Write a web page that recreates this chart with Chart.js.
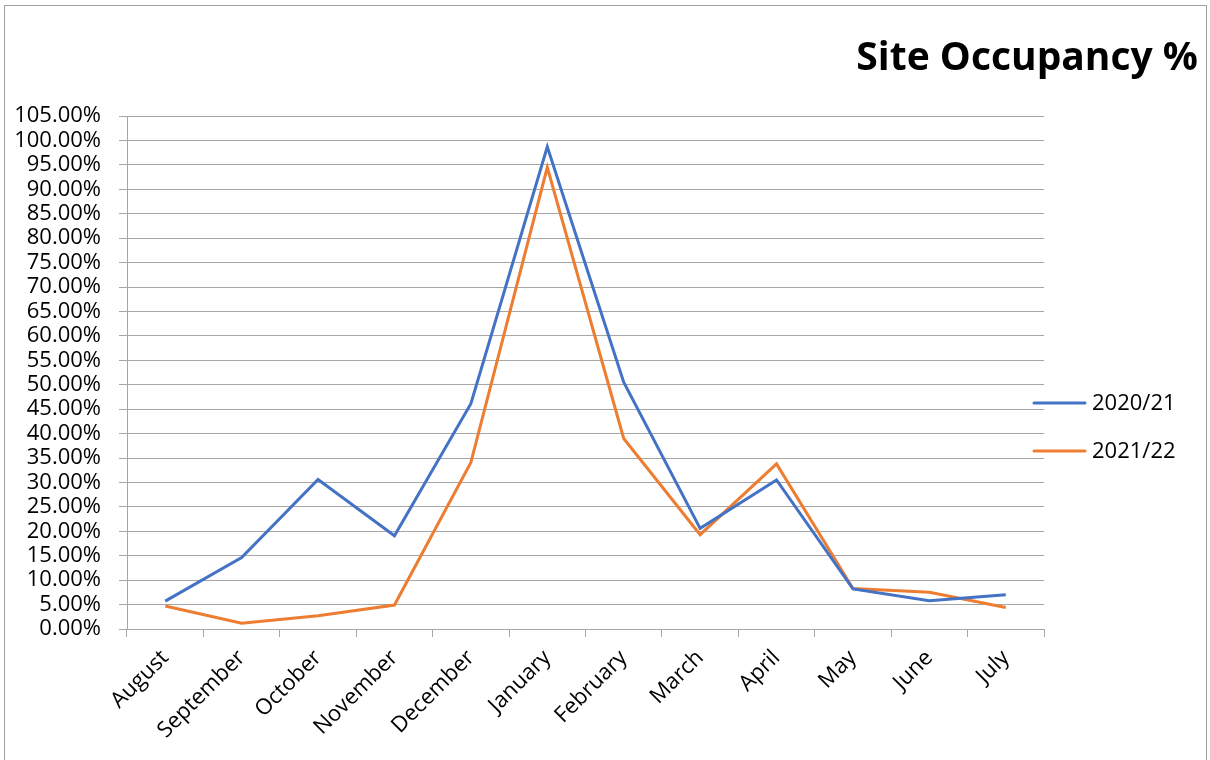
<!DOCTYPE html>
<html>
<head>
<meta charset="utf-8">
<title>Site Occupancy %</title>
<script src="https://cdn.jsdelivr.net/npm/chart.js@4.4.0/dist/chart.umd.min.js"></script>
<style>
  html, body { margin: 0; padding: 0; background: #ffffff; }
  #occupancyChart { display: block; }
</style>
</head>
<body>
<canvas id="occupancyChart" width="1210" height="760"></canvas>
<script>
// Chart data (values in %)
const months = ['August', 'September', 'October', 'November', 'December', 'January',
  'February', 'March', 'April', 'May', 'June', 'July'];
const season2021 = [5.7, 14.6, 30.6, 19.1, 46.1, 98.7, 50.5, 20.6, 30.5, 8.2, 5.8, 7.0];
const season2122 = [4.7, 1.2, 2.7, 4.9, 34.1, 94.5, 39.0, 19.3, 33.8, 8.3, 7.5, 4.4];
const seriesNames = ['2020/21', '2021/22'];

const chartTitle = 'Site Occupancy %';
const FONT = '"Open Sans", "DejaVu Sans", sans-serif';
const GRID = '#a6a6a6';

// Draws the outer frame, the title top-right and the legend to the right of the plot
const decorations = {
  id: 'decorations',
  afterDraw(chart) {
    const ctx = chart.ctx;
    const area = chart.chartArea;
    ctx.save();

    // Frame round the chart (bottom edge is off the canvas, like the original crop)
    ctx.strokeStyle = '#a0a0a0';
    ctx.lineWidth = 1;
    ctx.strokeRect(4.5, 5.5, chart.width - 8, chart.height + 20);

    // Title
    ctx.fillStyle = '#000000';
    ctx.font = 'bold 39px ' + FONT;
    ctx.textAlign = 'right';
    ctx.textBaseline = 'alphabetic';
    ctx.fillText(chartTitle, chart.width - 12, 70);

    // Legend
    ctx.font = '22px ' + FONT;
    ctx.textAlign = 'left';
    ctx.textBaseline = 'middle';
    chart.data.datasets.forEach((ds, i) => {
      const y = 403 + i * 48;
      ctx.strokeStyle = ds.borderColor;
      ctx.lineWidth = 3;
      ctx.lineCap = 'round';
      ctx.beginPath();
      ctx.moveTo(area.right - 10, y);
      ctx.lineTo(area.right + 41, y);
      ctx.stroke();
      ctx.fillStyle = '#000000';
      ctx.fillText(ds.label, area.right + 48, y + 1);
    });
    ctx.restore();
  }
};

const ctx = document.getElementById('occupancyChart');
new Chart(ctx, {
  type: 'line',
  data: {
    labels: months,
    datasets: [
      {
        label: seriesNames[0],
        data: season2021,
        borderColor: '#4472C4',
        backgroundColor: '#4472C4',
        borderWidth: 3,
        pointRadius: 0,
        tension: 0
      },
      {
        label: seriesNames[1],
        data: season2122,
        borderColor: '#ED7D31',
        backgroundColor: '#ED7D31',
        borderWidth: 3,
        pointRadius: 0,
        tension: 0
      }
    ]
  },
  options: {
    responsive: false,
    animation: false,
    devicePixelRatio: 1,
    layout: { padding: { top: 116, left: 0, right: 166, bottom: 0 } },
    plugins: {
      legend: { display: false },
      title: { display: false },
      tooltip: { enabled: false }
    },
    scales: {
      x: {
        offset: true,
        grid: { offset: true, drawOnChartArea: false, drawTicks: true, tickLength: 8, color: GRID },
        border: { display: true, color: GRID },
        ticks: {
          minRotation: 45,
          maxRotation: 45,
          autoSkip: false,
          padding: 8,
          color: '#000000',
          font: { family: FONT, size: 22 }
        },
        afterFit(scale) { scale.height = 131; }
      },
      y: {
        min: 0,
        max: 105,
        grid: { color: GRID, tickLength: 8, lineWidth: 1 },
        border: { display: true, color: GRID },
        ticks: {
          stepSize: 5,
          autoSkip: false,
          padding: 18,
          color: '#000000',
          font: { family: FONT, size: 22 },
          callback: (v) => v.toFixed(2) + '%'
        },
        afterFit(scale) { scale.width = 127; }
      }
    }
  },
  plugins: [decorations]
});
</script>
</body>
</html>
